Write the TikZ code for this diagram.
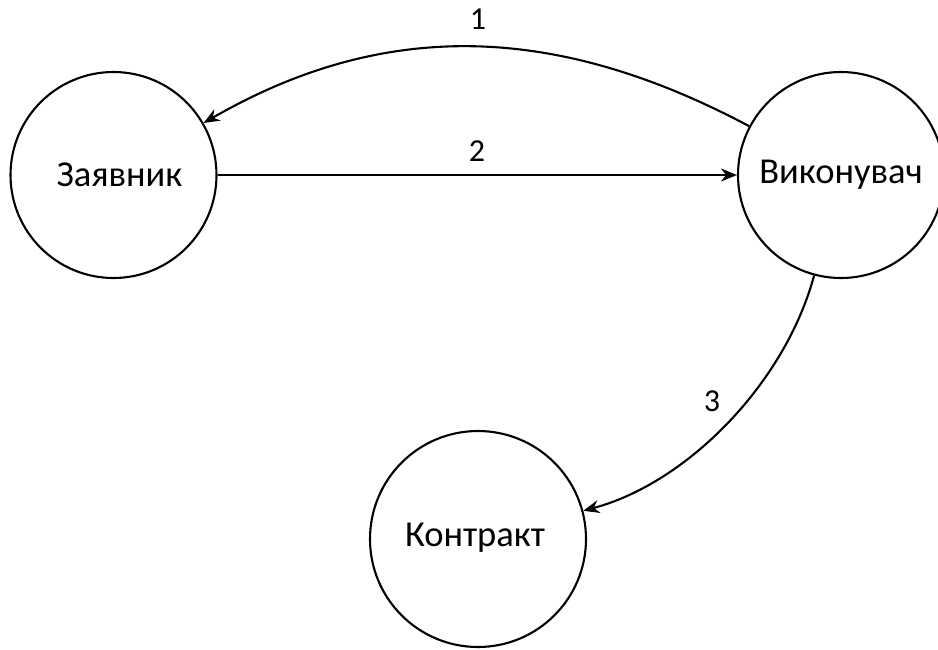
\documentclass[tikz,border=0pt]{standalone}
\usepackage{fontspec}
\setmainfont{Carlito}
\usetikzlibrary{arrows.meta}
\begin{document}
\begin{tikzpicture}[x=1pt,y=-1pt,
  ent/.style={draw=black,line width=2.1pt,circle,inner sep=0pt,minimum size=206pt,font=\fontsize{36.5}{40}\selectfont},
  arr/.style={line width=2.1pt,-{Stealth[length=16pt,width=13pt]}},
  lbl/.style={font=\fontsize{32}{34}\selectfont,inner sep=0pt}]
\useasboundingbox (0,0) rectangle (938,649);
\node[ent] (z) at (113.5,175) {\hspace*{12pt}Заявник};
\node[ent] (vk) at (841,175) {Виконувач};
\node[ent,minimum size=216pt] (k) at (478,539) {\raisebox{8pt}{Контракт}\hspace*{6pt}};
\draw[arr] (vk) to[out=152,in=30] (z);
\draw[arr] (z) -- (vk);
\draw[arr] (vk) to[out=-105,in=15,looseness=0.85] (k);
\node[lbl] (l1) at (478,19) {1};
\node[lbl] (l2) at (477,151) {2};
\node[lbl] (l3) at (712,401) {3};
\end{tikzpicture}
\end{document}
